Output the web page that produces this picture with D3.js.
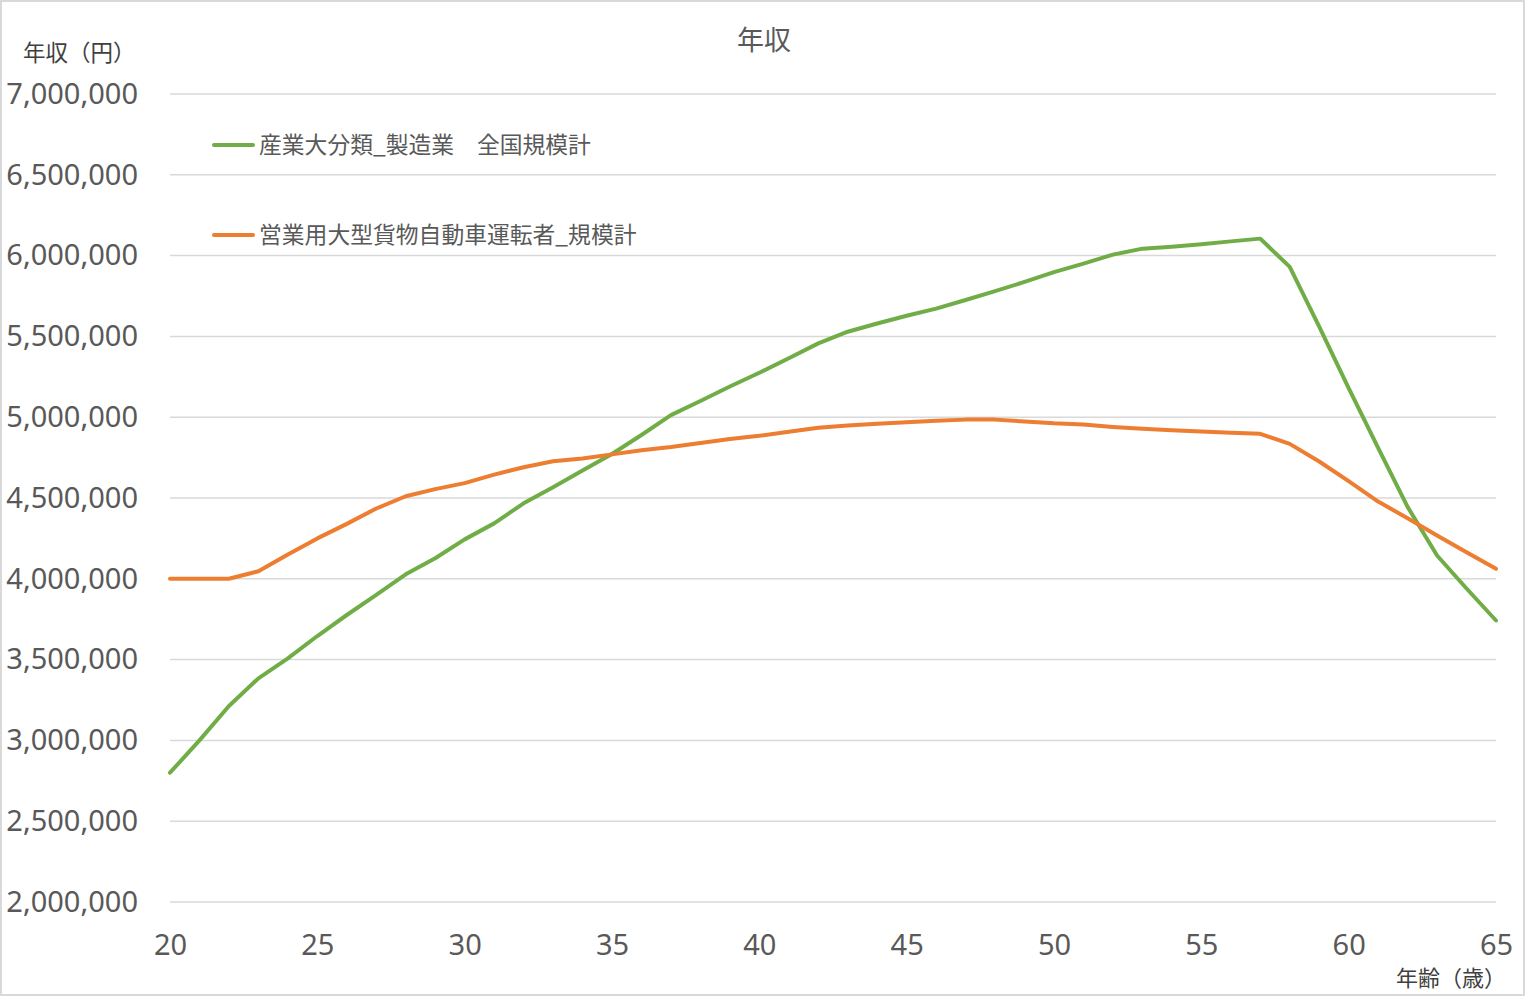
<!DOCTYPE html>
<html>
<head>
<meta charset="utf-8">
<script src="https://cdn.jsdelivr.net/npm/d3@7"></script>
<style>
  body { margin: 0; background: #fff; }
  svg { display: block; }
  .tick text { font-family: "Noto Sans", "Open Sans", sans-serif; }
</style>
</head>
<body>
<div id="chart"></div>
<script>
// ages on the x axis
const ages = [20, 21, 22, 23, 24, 25, 26, 27, 28, 29, 30, 31, 32, 33, 34, 35, 36, 37, 38, 39,
              40, 41, 42, 43, 44, 45, 46, 47, 48, 49, 50, 51, 52, 53, 54, 55, 56, 57, 58, 59,
              60, 61, 62, 63, 64, 65];

// 産業大分類_製造業　全国規模計
const manufacturing = [2800000, 3000000, 3213000, 3384000, 3508000, 3646000, 3776000, 3900000, 4028000, 4127000,
                       4244000, 4343000, 4467000, 4566000, 4670000, 4772000, 4890000, 5013000, 5100000, 5190000,
                       5275000, 5365000, 5457000, 5529000, 5580000, 5628000, 5672000, 5725000, 5780000, 5837000,
                       5898000, 5950000, 6006000, 6043000, 6055000, 6070000, 6088000, 6105000, 5930000, 5560000,
                       5180000, 4810000, 4445000, 4144000, 3940000, 3742000];

// 営業用大型貨物自動車運転者_規模計
const truckDriver = [4000000, 4000000, 4000000, 4047000, 4150000, 4250000, 4340000, 4435000, 4511000, 4555000,
                     4592000, 4645000, 4690000, 4727000, 4745000, 4770000, 4795000, 4815000, 4840000, 4865000,
                     4885000, 4910000, 4935000, 4948000, 4960000, 4968000, 4978000, 4985000, 4985000, 4974000,
                     4962000, 4955000, 4940000, 4928000, 4920000, 4911000, 4904000, 4897000, 4835000, 4726000,
                     4604000, 4478000, 4375000, 4268000, 4165000, 4062000];

const seriesNames = ["産業大分類_製造業　全国規模計", "営業用大型貨物自動車運転者_規模計"];
const seriesColors = ["#70ad47", "#ed7d31"];

const yTicks = [2000000, 2500000, 3000000, 3500000, 4000000, 4500000, 5000000, 5500000, 6000000, 6500000, 7000000];
const xTicks = [20, 25, 30, 35, 40, 45, 50, 55, 60, 65];

const W = 1526, H = 997;
const margin = {top: 94, right: 30, bottom: 95, left: 170};
const width = W - margin.left - margin.right;
const height = H - margin.top - margin.bottom;

const svg = d3.select("#chart")
    .append("svg")
    .attr("width", W)
    .attr("height", H);

// outer border
svg.append("rect")
    .attr("x", 1).attr("y", 1)
    .attr("width", W - 3).attr("height", H - 3)
    .attr("fill", "#fff")
    .attr("stroke", "#d9d9d9")
    .attr("stroke-width", 2);

const g = svg.append("g")
    .attr("transform", `translate(${margin.left},${margin.top})`);

const xScale = d3.scaleLinear().domain([20, 65]).range([0, width]);
const yScale = d3.scaleLinear().domain([2000000, 7000000]).range([height, 0]);

// gridlines
g.append("g")
    .selectAll("line")
    .data(yTicks)
    .join("line")
    .attr("x1", 0)
    .attr("x2", width)
    .attr("y1", d => yScale(d))
    .attr("y2", d => yScale(d))
    .attr("stroke", "#d9d9d9")
    .attr("stroke-width", 1.5);

// y axis
const yAxis = g.append("g")
    .call(d3.axisLeft(yScale).tickValues(yTicks).tickFormat(d3.format(",")).tickSize(0).tickPadding(32));
yAxis.select(".domain").remove();
yAxis.selectAll("text")
    .attr("fill", "#595959")
    .style("font-size", "29px");

// x axis
const xAxis = g.append("g")
    .attr("transform", `translate(0,${height})`)
    .call(d3.axisBottom(xScale).tickValues(xTicks).tickSize(0).tickPadding(32));
xAxis.select(".domain").remove();
xAxis.selectAll("text")
    .attr("fill", "#595959")
    .style("font-size", "29px");

// lines
const line = d3.line()
    .x((d, i) => xScale(ages[i]))
    .y(d => yScale(d));

[manufacturing, truckDriver].forEach((s, i) => {
    g.append("path")
        .datum(s)
        .attr("d", line)
        .attr("fill", "none")
        .attr("stroke", seriesColors[i])
        .attr("stroke-width", 4)
        .attr("stroke-linejoin", "round")
        .attr("stroke-linecap", "round");
});

// legend
const legend = svg.append("g");
seriesNames.forEach((name, i) => {
    const ly = 145 + i * 90;
    legend.append("line")
        .attr("x1", 214).attr("x2", 253)
        .attr("y1", ly).attr("y2", ly)
        .attr("stroke", seriesColors[i])
        .attr("stroke-width", 4)
        .attr("stroke-linecap", "round");
    legend.append("text")
        .attr("x", 259)
        .attr("y", ly + 8)
        .attr("fill", "#595959")
        .style("font-family", "'Noto Sans CJK JP', sans-serif")
        .style("font-size", "22.8px")
        .text(name);
});

// title and axis titles
svg.append("text")
    .attr("x", 764).attr("y", 50)
    .attr("text-anchor", "middle")
    .attr("fill", "#595959")
    .style("font-family", "'Noto Sans CJK JP', sans-serif")
    .style("font-size", "27px")
    .text("年収");

svg.append("text")
    .attr("x", 23).attr("y", 61)
    .attr("fill", "#404040")
    .style("font-family", "'Noto Sans CJK JP', sans-serif")
    .style("font-size", "22.5px")
    .text("年収（円）");

svg.append("text")
    .attr("x", 1506).attr("y", 986)
    .attr("text-anchor", "end")
    .attr("fill", "#404040")
    .style("font-family", "'Noto Sans CJK JP', sans-serif")
    .style("font-size", "22px")
    .text("年齢（歳）");
</script>
</body>
</html>
